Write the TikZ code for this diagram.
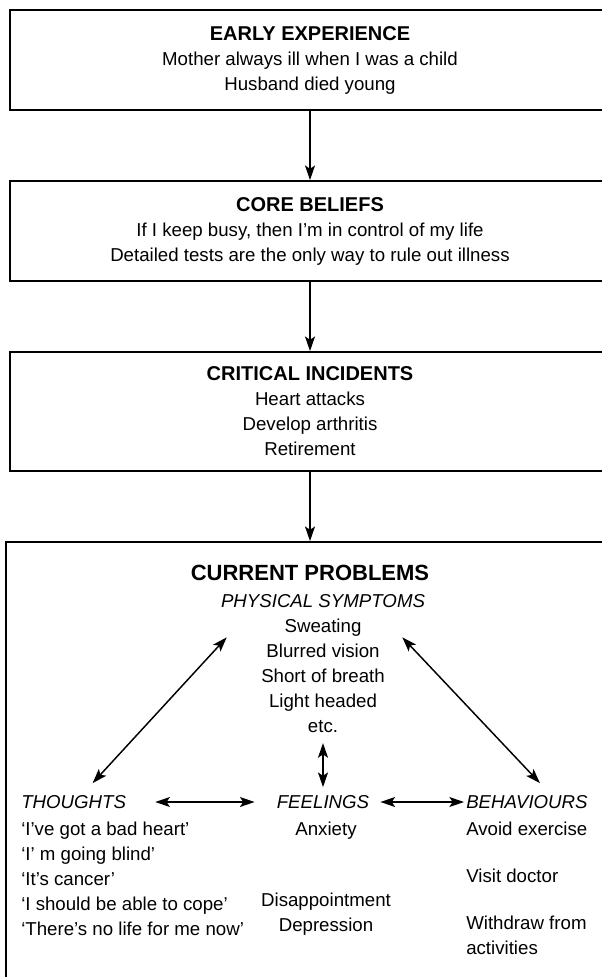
\documentclass[tikz,border=0pt]{standalone}
\usepackage{fontspec}
\setmainfont{Liberation Sans}
\definecolor{InkColor}{RGB}{0,0,0}
\usepackage{tikz}
\usetikzlibrary{positioning, arrows.meta}
\newcommand{\stagetitle}[1]{{\fontsize{15}{18.75}\selectfont\bfseries #1}}
\tikzstyle{arrow} = [line width=1.1pt, InkColor, ->, >={Stealth[length=11pt, width=7.5pt, inset=2.5pt]}]
\tikzstyle{twoway} = [line width=1.1pt, InkColor, <->, >={Stealth[length=11pt, width=7.5pt, inset=2.5pt]}]
\tikzstyle{stage} = [rectangle, draw=InkColor, line width=1.3pt, minimum width=450pt, align=center, font=\fontsize{14}{18.75}\selectfont]
\tikzset{
  problemtitle/.style={inner sep=0pt, font=\fontsize{16.5}{18.75}\selectfont\bfseries},
  plain/.style={inner sep=0pt, font=\fontsize{14}{18.75}\selectfont},
  header/.style={inner sep=0pt, font=\fontsize{14}{18.75}\selectfont\itshape}
}
\begin{document}
\begin{tikzpicture}[x=0.75pt, y=-0.75pt]
    \useasboundingbox (0,0) rectangle (601,977);

    % Stages of the formulation
    \node[stage, minimum height=75pt] (early) at (310,60)
        {\stagetitle{EARLY EXPERIENCE}\\Mother always ill when I was a child\\Husband died young};
    \node[stage, minimum height=75pt] (core) at (310,231)
        {\stagetitle{CORE BELIEFS}\\If I keep busy, then I’m in control of my life\\Detailed tests are the only way to rule out illness};
    \node[stage, minimum height=89.25pt] (incidents) at (310,411.5)
        {\stagetitle{CRITICAL INCIDENTS}\\Heart attacks\\Develop arthritis\\Retirement};
    \node[stage, minimum width=454.5pt, minimum height=351pt] (current) at (309,776) {};

    \draw[arrow] (early) -- (core);
    \draw[arrow] (core) -- (incidents);
    \draw[arrow] (incidents.south) -- (incidents.south |- current.north);

    % Current problems
    \node[problemtitle] (problems) at (310,573) {CURRENT PROBLEMS};
    \node[plain, anchor=north, align=center] (physical) at (323,594.3)
        {\textit{PHYSICAL SYMPTOMS}\\Sweating\\Blurred vision\\Short of breath\\Light headed\\etc.};

    \node[header, anchor=west] (thoughts) at (21,802) {THOUGHTS};
    \node[header] (feelings) at (323,802) {FEELINGS};
    \node[header, anchor=west] (behaviours) at (466,802) {BEHAVIOURS};

    \node[plain, anchor=north west, align=left] (thoughtlist) at (21,821.3)
        {‘I’ve got a bad heart’\\‘I’ m going blind’\\‘It’s cancer’\\‘I should be able to cope’\\‘There’s no life for me now’};
    \node[plain, anchor=north, align=center] (feelinglist) at (326,821.3)
        {Anxiety\\[34.5pt]Disappointment\\Depression};
    \node[plain, anchor=north west, align=left] (behaviourlist) at (466,821.3)
        {Avoid exercise\\[16.5pt]Visit doctor\\[16.5pt]Withdraw from\\activities};

    % Links between the parts
    \draw[twoway] ([shift={(6,43)}]physical.north west) -- ([shift={(19,-12)}]thoughts.north);
    \draw[twoway] ([shift={(-23,43)}]physical.north east) -- ([shift={(13,-12)}]behaviours.north);
    \draw[twoway] ([shift={(0,10)}]physical.south) -- ([shift={(0,-8)}]feelings.north);
    \draw[twoway, shorten <=21.75pt, shorten >=16.5pt] (thoughts.east) -- (feelings.west);
    \draw[twoway, shorten <=8.25pt, shorten >=1.5pt] (feelings.east) -- (behaviours.west);
\end{tikzpicture}
\end{document}
